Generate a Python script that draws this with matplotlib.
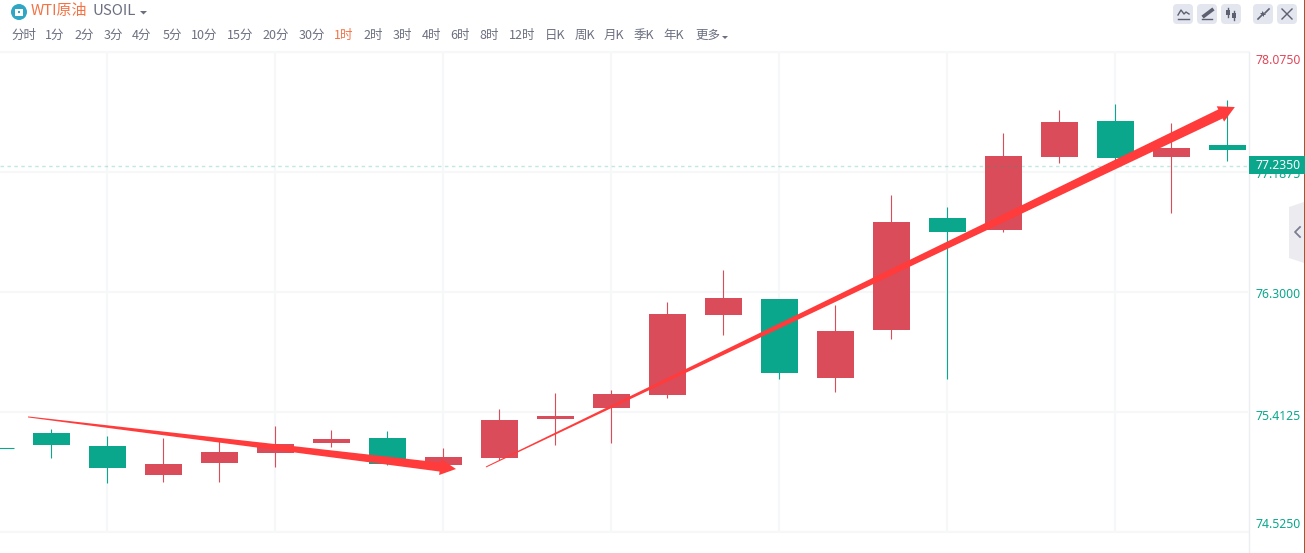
import numpy as np
import matplotlib
matplotlib.use("Agg")
import matplotlib.pyplot as plt
import matplotlib.patches as patches
from matplotlib.transforms import IdentityTransform

plt.rcParams['font.family'] = ['Noto Sans CJK SC', 'DejaVu Sans']

W, H = 1305, 553
AX_L, AX_R, AX_T, AX_B = 0, 1248, 52, 532

# 行情数据 (index -1 是左边被截掉的那根)
idx = list(range(-1, 22))
is_green = [True, True, True, False, False, False, False, True, False, False, False, False, False, False, True, False, False, True, False, False, True, False, True]
opens = [75.146, 75.257, 75.161, 74.947, 75.035, 75.109, 75.183, 75.220, 75.021, 75.072, 75.361, 75.442, 75.538, 76.130, 76.248, 75.664, 76.019, 76.847, 76.759, 77.298, 77.565, 77.298, 77.387]
closes = [75.146, 75.168, 74.998, 75.028, 75.117, 75.176, 75.213, 75.028, 75.080, 75.353, 75.383, 75.546, 76.137, 76.256, 75.701, 76.012, 76.818, 76.744, 77.306, 77.557, 77.291, 77.365, 77.350]
highs = [75.146, 75.287, 75.235, 75.220, 75.198, 75.309, 75.279, 75.272, 75.146, 75.435, 75.553, 75.575, 76.226, 76.463, 76.248, 76.204, 77.017, 76.929, 77.476, 77.646, 77.690, 77.550, 77.720]
lows = [75.146, 75.072, 74.887, 74.895, 74.895, 75.006, 75.154, 75.021, 74.998, 75.058, 75.168, 75.183, 75.516, 75.982, 75.657, 75.560, 75.952, 75.657, 76.744, 77.254, 77.239, 76.884, 77.269]

price_ticks = [78.0750, 77.1875, 76.3000, 75.4125, 74.5250]
tick_colors = ['#e0485a', '#0aa78c', '#0aa78c', '#0aa78c', '#0aa78c']
tick_label_y = [61, 175, 295, 416, 525]
grid_idx = [1, 4, 7, 10, 13, 16, 19]
last_price = 77.2350

# 两条手绘箭头 (index, price)
arrow_down = [(-0.41, 75.376), (7.232, 74.991)]
arrow_up = [(7.768, 75.006), (21.14, 77.668)]

intervals = ['分时', '1分', '2分', '3分', '4分', '5分', '10分', '15分', '20分', '30分', '1时', '2时', '3时', '4时', '6时', '8时', '12时', '日K', '周K', '月K', '季K', '年K', '更多']
interval_x = [24, 55, 84, 113, 142, 172, 204, 240, 276, 312, 344, 373, 402, 431, 460, 489, 522, 555, 585, 614, 644, 674, 708]

GREEN = '#0aa78c'
RED = '#db4c5a'
ARROW = '#ff3b3b'
TEXT = '#6b6f80'
ORANGE = '#f47345'


def fx(x):
    return x / W


def fy(y):
    return 1 - y / H


def draw_arrow(ax, p0, p1, tail_w, shaft_w, head_w, head_len):
    # 渐粗箭头, 在像素坐标里算
    a, b = ax.transData.transform([p0, p1])
    d = (b - a) / np.linalg.norm(b - a)
    n = np.array([-d[1], d[0]])
    neck = b - d * head_len
    pts = [a + n * tail_w / 2, neck + n * shaft_w / 2, neck + n * head_w / 2, b,
           neck - n * head_w / 2, neck - n * shaft_w / 2, a - n * tail_w / 2]
    ax.add_patch(patches.Polygon(pts, closed=True, facecolor=ARROW, edgecolor='none',
                                 transform=IdentityTransform(), zorder=6, clip_on=False))


def ui_line(xs, ys, color='#5c6070', lw=1.0):
    fig.add_artist(plt.Line2D([fx(x) for x in xs], [fy(y) for y in ys], color=color, lw=lw))


def ui_rect(x0, y0, x1, y1, color):
    fig.add_artist(patches.Rectangle((fx(x0), fy(y1)), (x1 - x0) / W, (y1 - y0) / H,
                                     transform=fig.transFigure, facecolor=color, edgecolor='none'))


def ui_poly(pts, color):
    fig.add_artist(patches.Polygon([(fx(x), fy(y)) for x, y in pts], closed=True,
                                   transform=fig.transFigure, facecolor=color, edgecolor='none'))


fig = plt.figure(figsize=(W / 100, H / 100), dpi=100, facecolor='white')
ax = fig.add_axes([fx(AX_L), fy(AX_B), fx(AX_R - AX_L), (AX_B - AX_T) / H])
ax.set_xlim(-51 / 56, (AX_R - 51) / 56)
ax.set_ylim(price_ticks[-1], price_ticks[0])
ax.set_xticks(grid_idx)
ax.set_yticks(price_ticks)
ax.tick_params(length=0, labelbottom=False, labelleft=False)
ax.grid(True, color='#f6f7f9', lw=1.5, zorder=0)
for s in ax.spines.values():
    s.set_visible(False)
ax.axhline(price_ticks[0], color='#f6f7f9', lw=1.5, clip_on=False)
ax.axhline(price_ticks[-1], color='#f6f7f9', lw=1.5, clip_on=False)

# 蜡烛
bar_w = 37 / 56
for i, o, c, h, l, g in zip(idx, opens, closes, highs, lows, is_green):
    col = GREEN if g else RED
    ax.vlines(i, l, h, color=col, lw=0.8, zorder=3)
    if o != c:
        ax.bar(i, abs(c - o), bottom=min(o, c), width=bar_w, color=col, lw=0, zorder=4)
    else:
        ax.hlines(o, i - bar_w / 2, i + bar_w / 2, color=col, lw=0.8, zorder=4)

# 现价虚线
ax.axhline(last_price, color=GREEN, alpha=0.25, lw=1, ls=(0, (2.5, 2.5)), zorder=5)

draw_arrow(ax, arrow_down[0], arrow_down[1], 1, 9, 16, 16)
draw_arrow(ax, arrow_up[0], arrow_up[1], 1, 10, 17, 16)

# 右侧价格轴
ui_line([1248.5, 1248.5], [52, 553], color='#eceef1')
for p, col, y in zip(price_ticks, tick_colors, tick_label_y):
    fig.text(fx(1255), fy(y), f'{p:.4f}', color=col, fontsize=8.8, ha='left', va='center',
             family=['Noto Sans', 'DejaVu Sans'])
fig.add_artist(patches.Rectangle((fx(1249), fy(174)), 56 / W, 18 / H, transform=fig.transFigure,
                                 facecolor=GREEN, edgecolor='none', zorder=5))
fig.text(fx(1255), fy(165.5), f'{last_price:.4f}', color='white', fontsize=8.8, fontweight='bold',
         ha='left', va='center', zorder=6, family=['Noto Sans', 'DejaVu Sans'])

# 折叠把手
ui_poly([(1289, 207), (1304, 202), (1304, 263), (1289, 258)], '#ececf0')
ui_line([1300, 1295, 1300], [227, 232, 237], color='#7a7e90', lw=1.3)

# 右边缘
ui_rect(1304, 0, 1305, 553, '#a5562a')

# 顶部标题栏
fig.add_artist(patches.Circle((19, H - 12), 8, transform=IdentityTransform(), facecolor='#2ea6c4', edgecolor='none'))
ui_rect(15.5, 8.5, 22.5, 15.5, 'white')
ui_rect(18, 11, 20, 13, '#2ea6c4')
fig.text(fx(31), fy(11), 'WTI原油', color=ORANGE, fontsize=10.8, ha='left', va='center')
fig.text(fx(92), fy(11), 'USOIL', color=TEXT, fontsize=10.8, ha='left', va='center')
ui_poly([(140, 11), (147, 11), (143.5, 14.5)], TEXT)

for name, x in zip(intervals, interval_x):
    col = ORANGE if name == '1时' else TEXT
    fig.text(fx(x), fy(35.5), name, color=col, fontsize=9, ha='center', va='center')
ui_poly([(722, 36), (728, 36), (725, 39)], TEXT)

# 右上角工具按钮
for x in [1183, 1207, 1231, 1263, 1287]:
    fig.add_artist(patches.FancyBboxPatch((x - 10, H - 24), 20, 20, boxstyle='round,pad=0,rounding_size=4',
                                          transform=IdentityTransform(), facecolor='#e3e6ee', edgecolor='none'))
ui_line([1178, 1181, 1184, 1186, 1189], [15, 10, 14, 12, 14])
ui_line([1178, 1189], [18.5, 18.5])
ui_line([1204, 1212], [16, 10], lw=2.6)
ui_line([1202, 1212], [19, 19])
ui_rect(1226, 10, 1230, 15, '#5c6070')
ui_line([1228, 1228], [8, 17])
ui_rect(1232, 13, 1236, 18, '#5c6070')
ui_line([1234, 1234], [11, 20])
ui_line([1258, 1262], [19, 15], lw=1.2)
ui_poly([(1260, 13), (1264, 13), (1264, 17)], '#5c6070')
ui_line([1265, 1269], [13, 9], lw=1.2)
ui_poly([(1262, 11), (1266, 15), (1262, 15)], '#5c6070')
ui_line([1282, 1292], [9, 19])
ui_line([1282, 1292], [19, 9])

fig.savefig('out.png', dpi=100)
